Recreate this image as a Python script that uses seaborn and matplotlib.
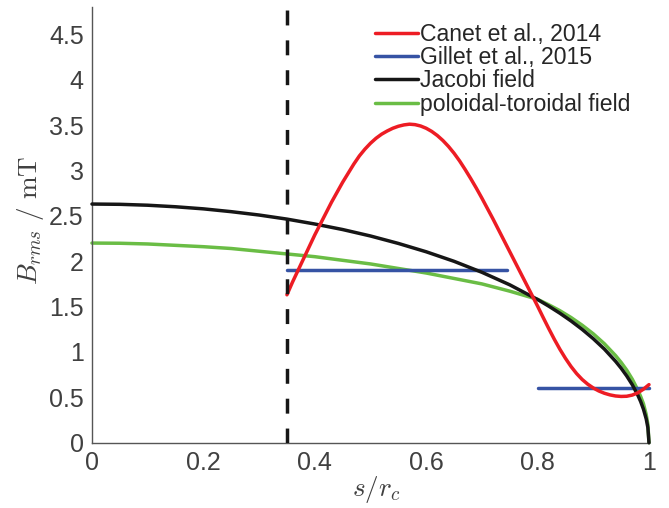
import matplotlib
matplotlib.use("Agg")
import matplotlib.pyplot as plt
import pandas as pd
import seaborn as sns

# Radial profiles of the rms magnetic field inside the core (s / r_c)
s_canet = [0.35, 0.36, 0.37, 0.38, 0.39, 0.40, 0.41, 0.42, 0.43, 0.44, 0.45,
           0.46, 0.47, 0.48, 0.49, 0.50, 0.51, 0.52, 0.53, 0.54, 0.55, 0.56,
           0.57, 0.58, 0.59, 0.60, 0.61, 0.62, 0.63, 0.64, 0.65, 0.66, 0.67,
           0.68, 0.69, 0.70, 0.71, 0.72, 0.73, 0.74, 0.75, 0.76, 0.77, 0.78,
           0.79, 0.80, 0.81, 0.82, 0.83, 0.84, 0.85, 0.86, 0.87, 0.88, 0.89,
           0.90, 0.91, 0.92, 0.93, 0.94, 0.95, 0.96, 0.97, 0.98, 0.99, 1.00]
b_canet = [1.63, 1.77, 1.90, 2.03, 2.16, 2.29, 2.41, 2.53, 2.65, 2.76, 2.87,
           2.97, 3.07, 3.16, 3.235, 3.30, 3.355, 3.40, 3.435, 3.465, 3.487,
           3.502, 3.51, 3.505, 3.49, 3.465, 3.43, 3.385, 3.33, 3.265, 3.19,
           3.105, 3.01, 2.91, 2.805, 2.695, 2.58, 2.465, 2.345, 2.225, 2.105,
           1.985, 1.865, 1.745, 1.625, 1.505, 1.38, 1.258, 1.14, 1.03, 0.93,
           0.84, 0.762, 0.697, 0.645, 0.603, 0.57, 0.545, 0.527, 0.515, 0.51,
           0.512, 0.525, 0.55, 0.59, 0.64]

s_gillet_inner = [0.35, 0.745]
b_gillet_inner = [1.9, 1.9]
s_gillet_outer = [0.8, 1.0]
b_gillet_outer = [0.6, 0.6]

s_jacobi = [0, 0.05, 0.1, 0.15, 0.2, 0.25, 0.3, 0.35, 0.4, 0.45, 0.5, 0.55,
            0.6, 0.65, 0.7, 0.75, 0.8, 0.82, 0.84, 0.86, 0.88, 0.9, 0.92,
            0.94, 0.95, 0.96, 0.97, 0.98, 0.985, 0.99, 0.995, 0.998, 1.0]
b_jacobi = [2.63, 2.627, 2.617, 2.600, 2.577, 2.546, 2.509, 2.464, 2.410,
            2.349, 2.278, 2.196, 2.104, 1.999, 1.878, 1.740, 1.578, 1.505,
            1.427, 1.342, 1.249, 1.146, 1.031, 0.897, 0.821, 0.736, 0.639,
            0.523, 0.454, 0.371, 0.263, 0.166, 0.0]

s_poltor = [0, 0.05, 0.1, 0.15, 0.2, 0.25, 0.3, 0.35, 0.4, 0.45, 0.5, 0.55,
            0.6, 0.65, 0.7, 0.75, 0.8, 0.82, 0.84, 0.86, 0.88, 0.9, 0.92,
            0.94, 0.95, 0.96, 0.97, 0.98, 0.985, 0.99, 0.995, 0.998, 1.0]
b_poltor = [2.20, 2.198, 2.19, 2.175, 2.16, 2.14, 2.11, 2.08, 2.05, 2.01,
            1.97, 1.92, 1.87, 1.81, 1.75, 1.67, 1.58, 1.52, 1.455, 1.38,
            1.295, 1.20, 1.09, 0.96, 0.885, 0.80, 0.70, 0.58, 0.51, 0.43,
            0.31, 0.20, 0.0]

s_tangent_cylinder = 0.35

labels = ["Canet et al., 2014", "Gillet et al., 2015", "Jacobi field",
          "poloidal-toroidal field"]
colors = ["#ED1C24", "#3653A4", "#161616", "#6ABD45"]

x_ticks = [0, 0.2, 0.4, 0.6, 0.8, 1]
x_tick_labels = ["0", "0.2", "0.4", "0.6", "0.8", "1"]
y_ticks = [0, 0.5, 1, 1.5, 2, 2.5, 3, 3.5, 4, 4.5]
y_tick_labels = ["0", "0.5", "1", "1.5", "2", "2.5", "3", "3.5", "4", "4.5"]

sns.set_style("white")
plt.rcParams["font.family"] = ["Liberation Sans", "DejaVu Sans"]
plt.rcParams["mathtext.fontset"] = "cm"

fig = plt.figure(figsize=(6.69, 5.08), dpi=100)
ax = fig.add_axes([0.1375, 0.1285, 0.8326, 0.8575])

lw = 2.5
canet = pd.DataFrame({"s": s_canet, "B": b_canet})
jacobi = pd.DataFrame({"s": s_jacobi, "B": b_jacobi})
poltor = pd.DataFrame({"s": s_poltor, "B": b_poltor})
g_in = pd.DataFrame({"s": s_gillet_inner, "B": b_gillet_inner})
g_out = pd.DataFrame({"s": s_gillet_outer, "B": b_gillet_outer})

sns.lineplot(data=poltor, x="s", y="B", ax=ax, color=colors[3], lw=lw,
             clip_on=False, zorder=2)
sns.lineplot(data=g_in, x="s", y="B", ax=ax, color=colors[1], lw=lw,
             clip_on=False, zorder=3)
sns.lineplot(data=g_out, x="s", y="B", ax=ax, color=colors[1], lw=lw,
             clip_on=False, zorder=3)
sns.lineplot(data=jacobi, x="s", y="B", ax=ax, color=colors[2], lw=lw,
             clip_on=False, zorder=4)
sns.lineplot(data=canet, x="s", y="B", ax=ax, color=colors[0], lw=lw,
             clip_on=False, zorder=5)
ax.axvline(s_tangent_cylinder, color="#161616", lw=2.5, dashes=(4.3, 4.3),
           zorder=6)

ax.set_xlim(0, 1)
ax.set_ylim(0, 4.8)
ax.set_xticks(x_ticks, x_tick_labels)
ax.set_yticks(y_ticks, y_tick_labels)

for side in ("top", "right"):
    ax.spines[side].set_visible(False)
for side in ("left", "bottom"):
    ax.spines[side].set_color("#555555")
    ax.spines[side].set_linewidth(1.0)

ax.tick_params(axis="both", direction="in", length=4, width=1,
               color="#555555", labelcolor="#404040", labelsize=18, pad=6)

ax.set_xlabel(r"$s/r_c$", fontsize=19.6, color="#404040")
ax.set_ylabel(r"$B_{rms}\ /\ \mathrm{mT}$", fontsize=19.6, color="#404040")
ax.xaxis.set_label_coords(0.51, -0.072)
ax.yaxis.set_label_coords(-0.083, 0.51)

handles = [plt.Line2D([], [], color=c, lw=lw) for c in colors]
ax.legend(handles, labels, loc="upper left", bbox_to_anchor=(0.5605, 0.9555),
          bbox_transform=fig.transFigure, frameon=False, fontsize=16.6,
          borderpad=0, borderaxespad=0, handlelength=1.86, handletextpad=0.1,
          labelspacing=0.015)

fig.savefig("out.png", dpi=100)
